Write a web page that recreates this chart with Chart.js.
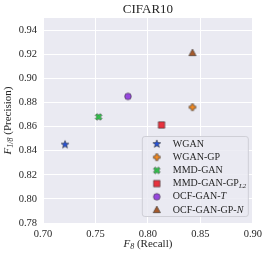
<!doctype html>
<html lang="en">
<head>
<meta charset="utf-8">
<title>CIFAR10</title>
<script src="https://cdn.jsdelivr.net/npm/chart.js@4.4.1/dist/chart.umd.min.js"></script>
<style>
  html, body { margin: 0; padding: 0; background: #fff; }
  #wrap { width: 267px; height: 256px; }
</style>
</head>
<body>
<div id="wrap"><canvas id="scatter"></canvas></div>
<script>
// data
const names = ['WGAN', 'WGAN-GP', 'MMD-GAN', 'MMD-GAN-GP_{L2}', 'OCF-GAN-*T*', 'OCF-GAN-GP-*N*']
const recall = [0.721, 0.8425, 0.753, 0.813, 0.781, 0.8425]
const precision = [0.845, 0.876, 0.868, 0.8613, 0.885, 0.921]
const shapes = ['star', 'plus', 'x', 'square', 'circle', 'triangle']
const colors = ['#2752d6', '#f58a22', '#30c24a', '#e8323e', '#9747df', '#a65a2b']
const xTicks = [0.70, 0.75, 0.80, 0.85, 0.90]
const yTicks = [0.78, 0.80, 0.82, 0.84, 0.86, 0.88, 0.90, 0.92, 0.94]

const serif = '"Liberation Serif", "DejaVu Serif", serif'
const textColor = '#262626'

// filled matplotlib-like markers drawn onto small canvases
function marker(shape, fill) {
    const s = 12, c = s / 2
    const cv = document.createElement('canvas')
    cv.width = s; cv.height = s
    const ctx = cv.getContext('2d')
    ctx.fillStyle = fill
    ctx.strokeStyle = '#333333'
    ctx.lineWidth = 0.6
    ctx.beginPath()
    if (shape === 'circle') {
        ctx.arc(c, c, 3.3, 0, Math.PI * 2)
    } else if (shape === 'square') {
        ctx.rect(c - 3.2, c - 3.2, 6.4, 6.4)
    } else if (shape === 'triangle') {
        ctx.moveTo(c, c - 3.9)
        ctx.lineTo(c + 3.6, c + 2.7)
        ctx.lineTo(c - 3.6, c + 2.7)
        ctx.closePath()
    } else if (shape === 'star') {
        for (let i = 0; i < 10; i++) {
            const r = i % 2 === 0 ? 4.1 : 1.75
            const a = -Math.PI / 2 + i * Math.PI / 5
            ctx.lineTo(c + r * Math.cos(a), c + r * Math.sin(a))
        }
        ctx.closePath()
    } else {
        // thick plus, rotated for 'x'
        const a = shape === 'x' ? 3.5 : 3.3, w = 1.2
        const pts = [[-w, -a], [w, -a], [w, -w], [a, -w], [a, w], [w, w], [w, a], [-w, a], [-w, w], [-a, w], [-a, -w], [-w, -w]]
        const rot = shape === 'x' ? Math.PI / 4 : 0
        pts.forEach(p => {
            const x = p[0] * Math.cos(rot) - p[1] * Math.sin(rot)
            const y = p[0] * Math.sin(rot) + p[1] * Math.cos(rot)
            ctx.lineTo(c + x, c + y)
        })
        ctx.closePath()
    }
    ctx.fill()
    ctx.stroke()
    return cv
}

const markers = shapes.map((s, i) => marker(s, colors[i]))

// tiny text renderer: *italic*, _{subscript}
function parts(str) {
    const out = []
    const re = /\*([^*]+)\*|_\{([^}]+)\}|([^*_]+)/g
    let m
    while ((m = re.exec(str)) !== null) {
        if (m[1]) out.push({ t: m[1], k: 'i' })
        else if (m[2]) out.push({ t: m[2], k: 'sub' })
        else out.push({ t: m[3], k: 'n' })
    }
    return out
}

function fontFor(k, size) {
    if (k === 'i') return 'italic ' + size + 'px ' + serif
    if (k === 'sub') return 'italic ' + Math.round(size * 0.7) + 'px ' + serif
    return size + 'px ' + serif
}

function richWidth(ctx, str, size) {
    let w = 0
    parts(str).forEach(p => { ctx.font = fontFor(p.k, size); w += ctx.measureText(p.t).width })
    return w
}

function richText(ctx, str, x, y, size) {
    ctx.textBaseline = 'middle'
    ctx.textAlign = 'left'
    ctx.fillStyle = textColor
    parts(str).forEach(p => {
        ctx.font = fontFor(p.k, size)
        const dy = p.k === 'sub' ? size * 0.3 : 0
        ctx.fillText(p.t, x, y + dy)
        x += ctx.measureText(p.t).width
    })
}

const decorations = {
    id: 'decorations',
    beforeDraw(chart) {
        const { ctx, chartArea: a } = chart
        ctx.save()
        ctx.fillStyle = '#eaeaf2'
        ctx.fillRect(a.left, a.top, a.right - a.left, a.bottom - a.top)
        ctx.restore()
    },
    afterDraw(chart) {
        const { ctx, chartArea: a } = chart
        ctx.save()

        // title
        ctx.font = '13px ' + serif
        ctx.fillStyle = textColor
        ctx.textAlign = 'center'
        ctx.textBaseline = 'middle'
        ctx.fillText('CIFAR10', (a.left + a.right) / 2, 10)

        // axis titles
        const xt = '*F*_{8} (Recall)'
        richText(ctx, xt, (a.left + a.right) / 2 - richWidth(ctx, xt, 11) / 2, 244, 11)
        const yt = '*F*_{1/8} (Precision)'
        ctx.save()
        ctx.translate(8, (a.top + a.bottom) / 2)
        ctx.rotate(-Math.PI / 2)
        richText(ctx, yt, -richWidth(ctx, yt, 11) / 2, 0, 11)
        ctx.restore()

        // legend inside the plot, lower right
        const w = 106, h = 80
        const x0 = a.right - 5 - w, y0 = a.bottom - 7 - h
        ctx.beginPath()
        ctx.roundRect(x0 + 0.5, y0 + 0.5, w, h, 2.5)
        ctx.fillStyle = 'rgba(234,234,242,0.85)'
        ctx.fill()
        ctx.strokeStyle = '#cfcfd6'
        ctx.lineWidth = 1
        ctx.stroke()
        names.forEach((n, i) => {
            const y = y0 + 8 + i * 13.2
            ctx.drawImage(markers[i], x0 + 15 - 6, y - 6)
            richText(ctx, n, x0 + 31, y, 10)
        })
        ctx.restore()
    }
}

const datasets = names.map((n, i) => ({
    label: n,
    data: [{ x: recall[i], y: precision[i] }],
    pointStyle: markers[i],
    pointRadius: 4,
    pointHoverRadius: 4
}))

new Chart(document.getElementById('scatter'), {
    type: 'scatter',
    data: { datasets: datasets },
    options: {
        responsive: true,
        maintainAspectRatio: false,
        animation: false,
        layout: { padding: { top: 18, right: 14, left: 0, bottom: 0 } },
        plugins: {
            legend: { display: false },
            title: { display: false },
            tooltip: { enabled: false }
        },
        scales: {
            x: {
                min: 0.70, max: 0.90,
                afterBuildTicks: s => { s.ticks = xTicks.map(v => ({ value: v })) },
                afterFit: s => { s.height = 33 },
                grid: { color: '#ffffff', lineWidth: 1, drawTicks: false },
                border: { display: false },
                ticks: {
                    padding: 5,
                    color: textColor,
                    font: { family: serif, size: 10.5 },
                    callback: v => v.toFixed(2)
                }
            },
            y: {
                min: 0.78, max: 0.95,
                afterBuildTicks: s => { s.ticks = yTicks.map(v => ({ value: v })) },
                afterFit: s => { s.width = 43 },
                grid: { color: '#ffffff', lineWidth: 1, drawTicks: false },
                border: { display: false },
                ticks: {
                    padding: 6,
                    color: textColor,
                    font: { family: serif, size: 10.5 },
                    callback: v => v.toFixed(2)
                }
            }
        }
    },
    plugins: [decorations]
})
</script>
</body>
</html>
